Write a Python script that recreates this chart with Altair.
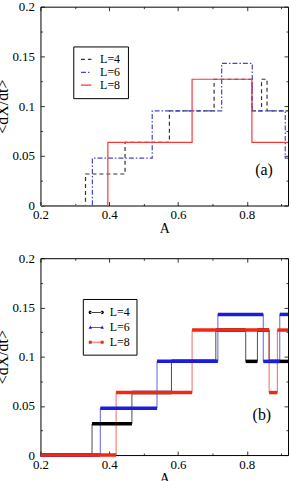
import altair as alt
import pandas as pd

SERIES = ["L=4", "L=6", "L=8"]
X_TICKS = [0.2, 0.3, 0.4, 0.5, 0.6, 0.7, 0.8, 0.9]
Y_TICKS = [0, 0.025, 0.05, 0.075, 0.1, 0.125, 0.15, 0.175, 0.2]

# panel (a): step breakpoints (A where a level starts) and levels
A_a4 = [0.2, 0.331, 0.446, 0.575, 0.705, 0.815, 0.843, 0.859, 0.92]
V_a4 = [0, 0.0317, 0.0635, 0.0952, 0.127, 0.0952, 0.127, 0.0952, 0.0952]
A_a6 = [0.2, 0.351, 0.525, 0.727, 0.816, 0.912, 0.92]
V_a6 = [0, 0.0476, 0.0952, 0.1429, 0.0952, 0.0476, 0.0476]
A_a8 = [0.2, 0.396, 0.641, 0.815, 0.92]
V_a8 = [0, 0.0635, 0.127, 0.0635, 0.0635]

# panel (b)
A_b4 = [0.2, 0.35, 0.466, 0.581, 0.71, 0.797, 0.831, 0.865, 0.92]
V_b4 = [0, 0.0317, 0.0635, 0.0952, 0.127, 0.0952, 0.127, 0.0952, 0.0952]
A_b6 = [0.2, 0.374, 0.539, 0.716, 0.848, 0.896, 0.92]
V_b6 = [0, 0.0476, 0.0952, 0.1429, 0.0952, 0.1429, 0.1429]
A_b8 = [0.2, 0.42, 0.641, 0.865, 0.889, 0.92]
V_b8 = [0, 0.0635, 0.127, 0.0635, 0.127, 0.127]

COLORS_A = ["#333333", "#4545d2", "#f03a3a"]
COLORS_B = ["#000000", "#1c1ce0", "#f02814"]
DASHES = [[4, 3], [5, 2, 1.5, 2], [1, 0]]
SHAPES = [
    "M-0.8,-0.05H0.8V0.05H-0.8Z M-1.02,0A0.21,0.21 0 1,0 -0.6,0A0.21,0.21 0 1,0 -1.02,0Z M0.6,0A0.21,0.21 0 1,0 1.02,0A0.21,0.21 0 1,0 0.6,0Z",
    "M-0.8,-0.05H0.8V0.05H-0.8Z M-1.03,0.18L-0.8,-0.24L-0.57,0.18Z M0.57,0.18L0.8,-0.24L1.03,0.18Z",
    "M-0.8,-0.05H0.8V0.05H-0.8Z M-1.0,-0.2H-0.6V0.2H-1.0Z M0.6,-0.2H1.0V0.2H0.6Z",
]

FONT = "Liberation Serif"


def points(groups):
    rows = []
    for name, xs, vs in groups:
        for i, (a, v) in enumerate(zip(xs, vs)):
            rows.append({"L": name, "A": a, "V": v, "i": i})
    return pd.DataFrame(rows)


def segments(groups):
    rows = []
    for name, xs, vs in groups:
        for i in range(len(xs) - 1):
            rows.append({"L": name, "A": xs[i], "A2": xs[i + 1], "V": vs[i]})
    return pd.DataFrame(rows)


grp_a = [("L=4", A_a4, V_a4), ("L=6", A_a6, V_a6), ("L=8", A_a8, V_a8)]
grp_b = [("L=4", A_b4, V_b4), ("L=6", A_b6, V_b6), ("L=8", A_b8, V_b8)]
df_a = points(grp_a)
df_b = points(grp_b)
seg_b = segments(grp_b)

xscale = alt.Scale(domain=[0.2, 0.92], zero=False, nice=False)
yscale = alt.Scale(domain=[0, 0.2], zero=False, nice=False)

xmajor = "round(datum.value*10) % 2 == 0"
ymajor = "round(datum.value*40) % 2 == 0"
xtick = {"condition": {"test": xmajor, "value": -4}, "value": -2}
ytick = {"condition": {"test": ymajor, "value": -4}, "value": -2}

xaxis = alt.Axis(
    values=X_TICKS,
    labelExpr="round(datum.value*10) % 2 == 0 ? format(datum.value, '.1f') : ''",
    tickSize=xtick,
    labelPadding=7.5,
    titlePadding=0,
    labelFlush=False,
    title="A",
)
yaxis = alt.Axis(
    values=Y_TICKS,
    labelExpr="round(datum.value*40) % 2 == 0 ? format(datum.value, '~g') : ''",
    tickSize=ytick,
    labelPadding=10,
    titlePadding=1,
    titleFontSize=16,
    labelFlush=False,
    title="<dX/dt>",
)
xaxis_top = alt.Axis(orient="top", values=X_TICKS, tickSize=xtick, labels=False, title=None)
yaxis_right = alt.Axis(orient="right", values=Y_TICKS, tickSize=ytick, labels=False, title=None)

leg_common = dict(
    title=None,
    orient="none",
    strokeColor="black",
    fillColor="white",
    labelFont=FONT,
    labelFontSize=12,
    labelColor="black",
    rowPadding=1,
)

leg_a = alt.Legend(
    legendX=33, legendY=40, padding=7, symbolType="stroke", symbolSize=110,
    symbolStrokeWidth=1.3, labelOffset=8,
    labelExpr="datum.label + '\u00a0\u00a0'",
    **leg_common,
)
leg_b = alt.Legend(
    legendX=42.6, legendY=41, padding=6, symbolSize=225, labelOffset=6,
    symbolStrokeWidth=0,
    **leg_common,
)


def mirror(df_lab):
    return alt.Chart(df_lab).mark_point(opacity=0).encode(
        x=alt.X("A:Q", scale=xscale, axis=xaxis_top),
        y=alt.Y("V:Q", scale=yscale, axis=yaxis_right),
    )


def label(df_lab):
    return alt.Chart(df_lab).mark_text(font=FONT, fontSize=16, color="black").encode(
        x=alt.X("A:Q", scale=xscale, axis=None),
        y=alt.Y("V:Q", scale=yscale, axis=None),
        text="t:N",
    )


line_a = alt.Chart(df_a).mark_line(interpolate="step-after", strokeWidth=1.2).encode(
    x=alt.X("A:Q", scale=xscale, axis=xaxis),
    y=alt.Y("V:Q", scale=yscale, axis=yaxis),
    color=alt.Color("L:N", scale=alt.Scale(domain=SERIES, range=COLORS_A), legend=leg_a),
    strokeDash=alt.StrokeDash("L:N", scale=alt.Scale(domain=SERIES, range=DASHES), legend=leg_a),
    order=alt.Order("i:Q"),
)
lab_a_df = pd.DataFrame({"A": [0.85], "V": [0.0356], "t": ["(a)"]})

top = (
    alt.layer(line_a, label(lab_a_df), mirror(lab_a_df))
    .resolve_axis(x="independent", y="independent")
    .properties(width=249, height=200)
)

# legend-only layer (no rows pass the filter) comes first so its legend wins the merge
leg_layer = alt.Chart(df_b).transform_filter("datum.A < 0").mark_point(filled=True, opacity=1).encode(
    x=alt.X("A:Q", scale=xscale, axis=xaxis),
    y=alt.Y("V:Q", scale=yscale, axis=yaxis),
    color=alt.Color("L:N", scale=alt.Scale(domain=SERIES, range=COLORS_B), legend=leg_b),
    shape=alt.Shape("L:N", scale=alt.Scale(domain=SERIES, range=SHAPES), legend=leg_b),
)
line_b = alt.Chart(df_b).mark_line(interpolate="step-after", strokeWidth=0.7).encode(
    x=alt.X("A:Q", scale=xscale, axis=None),
    y=alt.Y("V:Q", scale=yscale, axis=None),
    color=alt.Color("L:N", scale=alt.Scale(domain=SERIES, range=COLORS_B), legend=None),
    order=alt.Order("i:Q"),
)
rule_b = alt.Chart(seg_b).mark_rule(strokeWidth=3.5, strokeCap="butt").encode(
    x=alt.X("A:Q", scale=xscale, axis=None),
    x2="A2:Q",
    y=alt.Y("V:Q", scale=yscale, axis=None),
    color=alt.Color("L:N", scale=alt.Scale(domain=SERIES, range=COLORS_B), legend=None),
)
lab_b_df = pd.DataFrame({"A": [0.844], "V": [0.041], "t": ["(b)"]})

bottom = (
    alt.layer(leg_layer, line_b, rule_b, label(lab_b_df), mirror(lab_b_df))
    .resolve_axis(x="independent", y="independent")
    .properties(width=249, height=198)
)

chart = (
    alt.vconcat(top, bottom, spacing=15)
    .resolve_scale(color="independent", strokeDash="independent", shape="independent")
    .resolve_legend(color="independent", strokeDash="independent", shape="independent")
    .properties(padding={"left": -6.3, "top": -1.7, "right": 0, "bottom": 0}, background="white")
    .configure_view(stroke="black", strokeWidth=1)
    .configure_axis(
        domain=False, grid=False, tickColor="black", tickWidth=0.8,
        labelFont=FONT, labelFontSize=13, labelColor="black",
        titleFont=FONT, titleFontSize=14, titleFontWeight="normal", titleColor="black",
    )
)

chart.save("out.html", embed_options={"renderer": "svg", "actions": False})
